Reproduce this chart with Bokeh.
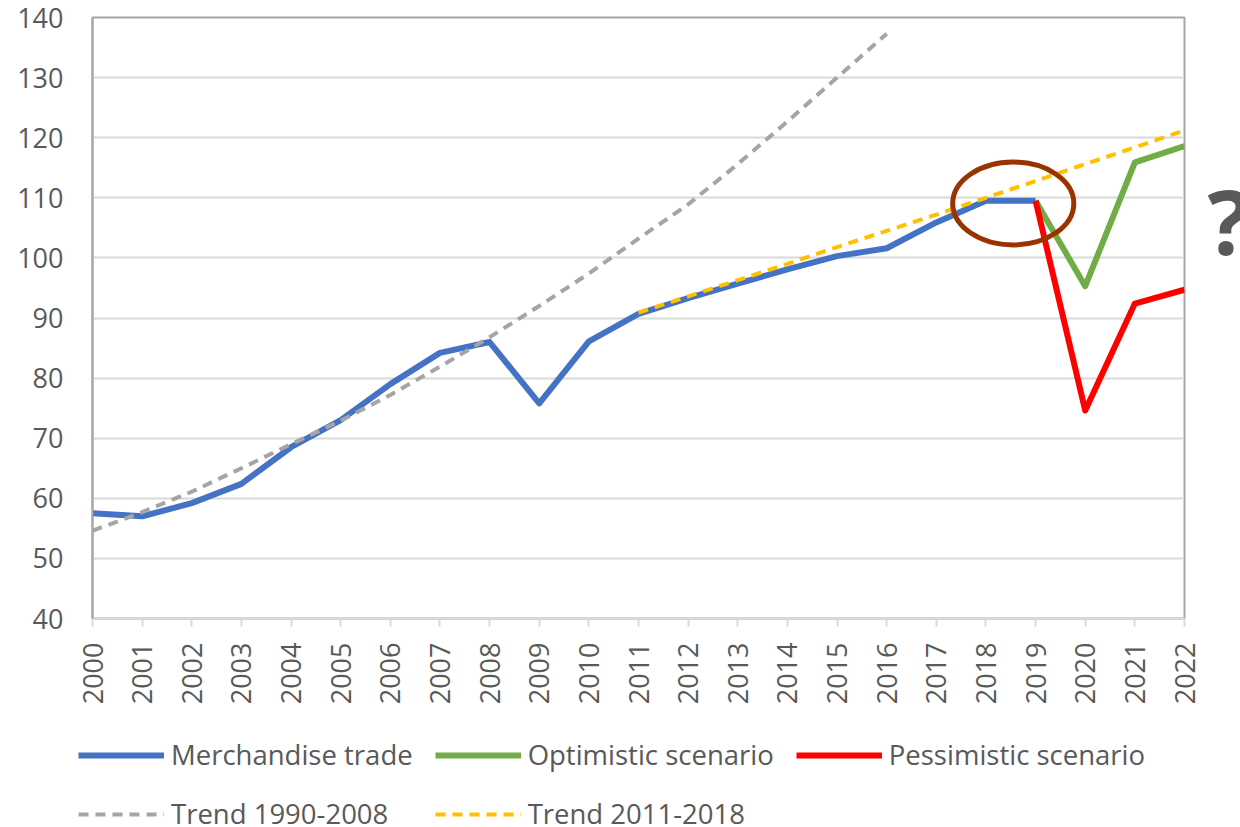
from bokeh.plotting import figure
from bokeh.models import Range1d, Legend, LegendItem, Label, FixedTicker
from bokeh.layouts import row, column
from bokeh.embed import file_html
from bokeh.resources import INLINE
import math

# ---- data ----
merch_years = list(range(2000, 2020))
merch_values = [57.5, 57.0, 59.2, 62.4, 68.5, 73.0, 79.0, 84.2, 86.0, 75.8,
                86.1, 90.7, 93.3, 95.7, 98.1, 100.3, 101.6, 105.9, 109.5, 109.5]

scen_years = [2019, 2020, 2021, 2022]
optimistic_values = [109.5, 95.3, 115.9, 118.6]
pessimistic_values = [109.5, 74.6, 92.4, 94.7]

trend1_years = list(range(2000, 2017))
trend1_values = [54.6, 57.7, 61.1, 65.0, 69.0, 72.9, 77.2, 81.9, 86.8, 92.0,
                 97.4, 103.2, 108.9, 115.6, 122.7, 130.0, 137.3]

trend2_years = list(range(2011, 2023))
trend2_values = [90.9, 93.6, 96.3, 99.0, 101.8, 104.5, 107.2, 110.0, 112.8,
                 115.6, 118.4, 121.2]

x_ticks = list(range(2000, 2023))
y_ticks = [40, 50, 60, 70, 80, 90, 100, 110, 120, 130, 140]

legend_labels = ["Merchandise trade", "Optimistic scenario", "Pessimistic scenario",
                 "Trend 1990-2008", "Trend 2011-2018"]

FONT = "Open Sans"
TXT = "#595959"

STYLES = [
    dict(line_color="#4472C4", line_width=6, line_join="round"),
    dict(line_color="#70AD47", line_width=6, line_join="round"),
    dict(line_color="#FF0000", line_width=6, line_join="round"),
    dict(line_color="#A5A5A5", line_width=4, line_dash="10 7"),
    dict(line_color="#FFC000", line_width=4, line_dash="10 7"),
]
SERIES = [
    (merch_years, merch_values),
    (scen_years, optimistic_values),
    (scen_years, pessimistic_values),
    (trend1_years, trend1_values),
    (trend2_years, trend2_values),
]

TOP_H = 720

p = figure(width=1200, height=TOP_H,
           x_range=Range1d(2000, 2022), y_range=Range1d(40, 140),
           output_backend="svg", toolbar_location=None,
           min_border_left=92, min_border_right=16,
           min_border_top=17, min_border_bottom=TOP_H - 618)

p.background_fill_color = "white"
p.border_fill_color = "white"
p.outline_line_color = "#a6a6a6"
p.outline_line_width = 2

p.xgrid.grid_line_color = None
p.ygrid.grid_line_color = "#d9d9d9"
p.ygrid.grid_line_width = 2
p.ygrid.ticker = FixedTicker(ticks=y_ticks)

p.xaxis.ticker = FixedTicker(ticks=x_ticks)
p.xaxis.major_label_orientation = math.pi / 2
p.xaxis.axis_line_color = "#d9d9d9"
p.xaxis.axis_line_width = 2
p.xaxis.major_tick_line_color = "#d9d9d9"
p.xaxis.major_tick_line_width = 2
p.xaxis.major_tick_in = 0
p.xaxis.major_tick_out = 8
p.xaxis.minor_tick_line_color = None
p.xaxis.major_label_standoff = 16
p.xaxis.major_label_text_font = FONT
p.xaxis.major_label_text_font_size = "27px"
p.xaxis.major_label_text_color = TXT

p.yaxis.ticker = FixedTicker(ticks=y_ticks)
p.yaxis.axis_line_color = "#a6a6a6"
p.yaxis.axis_line_width = 2
p.yaxis.major_tick_line_color = None
p.yaxis.minor_tick_line_color = None
p.yaxis.major_tick_in = 0
p.yaxis.major_tick_out = 0
p.yaxis.major_label_standoff = 29
p.yaxis.major_label_text_font = FONT
p.yaxis.major_label_text_font_size = "27px"
p.yaxis.major_label_text_color = TXT

for (xs, ys), st in zip(SERIES, STYLES):
    p.line(xs, ys, **st)

p.ellipse(x=2018.55, y=109.05, width=2.44, height=13.8,
          fill_color=None, line_color="#993300", line_width=5)

# side strip holding the big question mark
q = figure(width=40, height=TOP_H, x_range=Range1d(0, 1), y_range=Range1d(0, 1),
           output_backend="svg", toolbar_location=None,
           min_border_left=0, min_border_right=0, min_border_top=0, min_border_bottom=0)
q.axis.visible = False
q.grid.grid_line_color = None
q.outline_line_color = None
q.add_layout(Label(x=7, y=399, x_units="screen", y_units="screen", text="?",
                   text_font=FONT, text_font_size="90px", text_font_style="bold",
                   text_color=TXT, text_baseline="alphabetic"))

# legend strip (series re-plotted outside its visible ranges, only for the keys)
LG_H = 827 - TOP_H
lg = figure(width=1240, height=LG_H, x_range=Range1d(0, 1), y_range=Range1d(0, 1),
            output_backend="svg", toolbar_location=None,
            min_border_left=0, min_border_right=0, min_border_top=0, min_border_bottom=0)
lg.axis.visible = False
lg.grid.grid_line_color = None
lg.outline_line_color = None
items = []
for lab, (xs, ys), st in zip(legend_labels, SERIES, STYLES):
    r = lg.line(xs, ys, **st)
    items.append(LegendItem(label=lab, renderers=[r]))

legend = Legend(items=items, ncols=3, orientation="horizontal")
legend.location = (78, -5)
legend.border_line_color = None
legend.background_fill_alpha = 0
legend.padding = 0
legend.margin = 0
legend.spacing = 22
legend.glyph_width = 86
legend.glyph_height = 20
legend.label_standoff = 7
legend.label_text_font = FONT
legend.label_text_font_size = "27.5px"
legend.label_text_color = TXT
lg.add_layout(legend, "center")

layout = column(row(p, q, spacing=0), lg, spacing=0)
open("out.html", "w").write(file_html(layout, INLINE))
